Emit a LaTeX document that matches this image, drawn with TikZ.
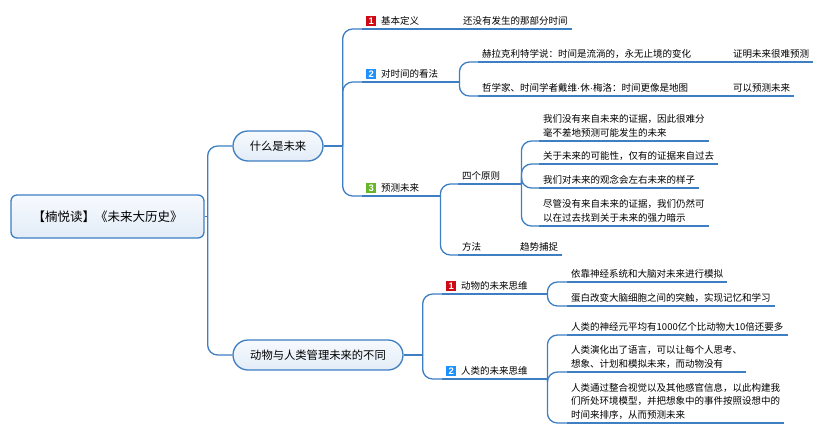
\documentclass[tikz,border=0pt]{standalone}
\usepackage{fontspec}
\setmainfont{Noto Sans CJK SC}
\newfontfamily\numfont{Liberation Sans}
\definecolor{lineblue}{RGB}{62,126,194}
\definecolor{iconred}{RGB}{206,10,20}
\definecolor{iconblue}{RGB}{30,144,255}
\definecolor{icongreen}{RGB}{102,182,40}
\definecolor{filltop}{RGB}{247,250,254}
\definecolor{fillbot}{RGB}{226,236,247}
\newcommand{\numicon}[2]{{\setlength{\fboxsep}{0pt}\colorbox{#1}{\makebox[10pt][c]{\rule[-1.4pt]{0pt}{10pt}{\color{white}\numfont\bfseries\fontsize{9.5}{9.5}\selectfont #2}}}}\hspace{5pt}}
\newcommand{\mdot}{{\numfont ·}}
\begin{document}
\begin{tikzpicture}[x=1pt,y=-1pt,
  conn/.style={draw=lineblue, line width=1.3pt, rounded corners=10pt},
  uline/.style={draw=lineblue, line width=1.3pt},
  leaf/.style={anchor=south west, inner xsep=4pt, inner ysep=2pt, text height=7.5pt, text depth=2.5pt, font=\fontsize{9.5}{13.5}\selectfont, align=left},
  topic/.style={draw=lineblue, line width=1.3pt, rounded corners=15pt, top color=filltop, bottom color=fillbot, minimum height=30pt, inner sep=0pt, font=\fontsize{11.3}{13}\selectfont},
  rootbox/.style={draw=lineblue, line width=1.3pt, rounded corners=6pt, top color=filltop, bottom color=fillbot, minimum width=193pt, minimum height=43pt, inner sep=0pt, font=\fontsize{12.5}{14}\selectfont}]
\useasboundingbox (0,0) rectangle (822,434);

% root and topics
\node[rootbox] (root) at (107.5,216.5) {【楠悦读】《未来大历史》};
\node[topic, minimum width=90pt] (t1) at (278,146) {什么是未来};
\node[topic, minimum width=170pt] (t2) at (318,355) {动物与人类管理未来的不同};

% branches of t1
\node[leaf] (b1) at (362,29) {\numicon{iconred}{1}基本定义};
\node[leaf] (d1) at (459,29) {还没有发生的那部分时间};
\node[leaf] (b2) at (362,82) {\numicon{iconblue}{2}对时间的看法};
\node[leaf] (h1) at (478,62) {赫拉克利特学说：时间是流淌的，永无止境的变化};
\node[leaf] (h1b) at (729,62) {证明未来很难预测};
\node[leaf] (h2) at (478,96) {哲学家、时间学者戴维\mdot 休\mdot 梅洛：时间更像是地图};
\node[leaf] (h2b) at (729,96) {可以预测未来};
\node[leaf] (b3) at (362,196) {\numicon{icongreen}{3}预测未来};
\node[leaf] (p) at (458,184) {四个原则};
\node[leaf] (q1) at (539,141) {我们没有来自未来的证据，因此很难分\\毫不差地预测可能发生的未来};
\node[leaf] (q2) at (539,164) {关于未来的可能性，仅有的证据来自过去};
\node[leaf] (q3) at (539,188) {我们对未来的观念会左右未来的样子};
\node[leaf] (q4) at (539,226) {尽管没有来自未来的证据，我们仍然可\\以在过去找到关于未来的强力暗示};
\node[leaf] (m) at (458,255) {方法};
\node[leaf] (mt) at (516,255) {趋势捕捉};

% branches of t2
\node[leaf] (a1) at (442,294) {\numicon{iconred}{1}动物的未来思维};
\node[leaf] (r1) at (567,282) {依靠神经系统和大脑对未来进行模拟};
\node[leaf] (r2) at (567,306) {蛋白改变大脑细胞之间的突触，实现记忆和学习};
\node[leaf] (a2) at (442,379) {\numicon{iconblue}{2}人类的未来思维};
\node[leaf] (s1) at (567,335) {人类的神经元平均有1000亿个比动物大10倍还要多};
\node[leaf] (s2) at (567,372) {人类演化出了语言，可以让每个人思考、\\想象、计划和模拟未来，而动物没有};
\node[leaf] (s3) at (567,423) {人类通过整合视觉以及其他感官信息，以此构建我\\们所处环境模型，并把想象中的事件按照设想中的\\时间来排序，从而预测未来};

% underlines
\foreach \n in {b1,d1,b2,h1,h1b,h2,h2b,b3,p,q1,q2,q3,q4,m,mt,a1,r1,r2,a2,s1,s2,s3}
  \draw[uline] (\n.south west) -- (\n.south east);

% connectors
\draw[uline] (root.east) -- ++(3,0) coordinate (j0);
\draw[conn] (j0) |- (t1.west);
\draw[conn] (j0) |- (t2.west);

\draw[uline] (t1.east) -- ++(19,0) coordinate (j1);
\draw[conn] (j1) |- (b1.south west);
\draw[conn] (j1) |- (b2.south west);
\draw[conn] (j1) |- (b3.south west);

\draw[uline] (b1.south east) -- (d1.south west);

\draw[uline] (b2.south east) -- ++(17,0) coordinate (j2);
\draw[conn] (j2) |- (h1.south west);
\draw[conn] (j2) |- (h2.south west);
\draw[uline] (h1.south east) -- (h1b.south west);
\draw[uline] (h2.south east) -- (h2b.south west);

\draw[uline] (b3.south east) -- ++(17,0) coordinate (j3);
\draw[conn] (j3) |- (p.south west);
\draw[conn] (j3) |- (m.south west);

\draw[uline] (p.south east) -- ++(17,0) coordinate (j4);
\draw[conn] (j4) |- (q1.south west);
\draw[conn] (j4) |- (q2.south west);
\draw[conn] (j4) |- (q3.south west);
\draw[conn] (j4) |- (q4.south west);

\draw[uline] (m.south east) -- (mt.south west);

\draw[uline] (t2.east) -- ++(19,0) coordinate (j5);
\draw[conn] (j5) |- (a1.south west);
\draw[conn] (j5) |- (a2.south west);

\draw[uline] (a1.south east) -- ++(15.5,0) coordinate (j6);
\draw[conn] (j6) |- (r1.south west);
\draw[conn] (j6) |- (r2.south west);

\draw[uline] (a2.south east) -- ++(15.5,0) coordinate (j7);
\draw[conn] (j7) |- (s1.south west);
\draw[conn] (j7) |- (s2.south west);
\draw[conn] (j7) |- (s3.south west);
\end{tikzpicture}
\end{document}
